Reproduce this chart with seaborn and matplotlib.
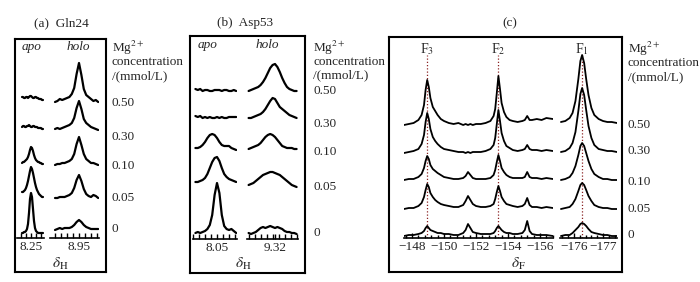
import numpy as np
import matplotlib
matplotlib.use('Agg')
import matplotlib.pyplot as plt
import seaborn as sns
from matplotlib.ticker import MultipleLocator, FixedLocator, FuncFormatter

W, H = 700, 282

# Mg2+ concentration of each trace, bottom row first
conc_labels = ['0', '0.05', '0.10', '0.30', '0.50']

# (a) Gln24, 1H shift (ppm) and peak intensity above each baseline
gln_apo_ppm = np.linspace(8.16, 8.37, 22)
gln_apo = [
    [0, 0, 1, 1, 2, 4, 9, 20, 34, 40, 36, 24, 12, 5, 2, 1, 0, 0, 0, 0, 0, 0],
    [5, 5, 6, 7, 9, 12, 16, 21, 26, 30, 28, 24, 19, 14, 10, 7, 5, 3, 2, 1, 0, 0],
    [0, 1, 1, 2, 3, 4, 6, 9, 13, 16, 15, 12, 8, 5, 3, 2, 1, 1, 0, 0, -1, -1],
    [0, 1, 1, 0, 0, 1, 1, 2, 1, 0, 0, 1, 1, 0, 0, 0, -1, -1, -1, -1, -2, -2],
    [1, 1, 0, 0, 1, 1, 0, 1, 2, 2, 1, 0, 0, 1, 1, 0, 0, -1, -1, -1, -2, -2],
]
gln_holo_ppm = np.linspace(8.75, 9.11, 19)
gln_holo = [
    [0, 1, 2, 1, 2, 2, 2, 3, 5, 8, 10, 8, 5, 3, 2, 1, 1, 1, 1],
    [0, 0, 1, 1, 1, 2, 3, 5, 10, 18, 23, 17, 9, 4, 2, 1, 3, 2, 0],
    [0, 1, 1, 2, 2, 3, 4, 6, 11, 21, 28, 20, 11, 6, 4, 2, 2, 1, 0],
    [1, 2, 1, 2, 3, 4, 5, 7, 12, 22, 29, 21, 11, 7, 5, 3, 2, 1, 0],
    [0, 1, 3, 2, 3, 4, 5, 8, 14, 28, 39, 27, 13, 7, 5, 3, 1, 2, 0],
]

# (b) Asp53
asp_apo_ppm = np.linspace(7.87, 8.21, 18)
asp_apo = [
    [0, 1, 0, 1, 2, 4, 8, 18, 38, 50, 40, 18, 7, 4, 3, 4, 2, 0],
    [0, 0, 1, 2, 4, 8, 14, 20, 24, 25, 21, 14, 8, 5, 3, 2, 1, 0],
    [1, 1, 2, 4, 7, 11, 14, 15, 14, 11, 7, 4, 3, 3, 3, 1, 0, -1],
    [1, 0, 1, -1, 0, -1, 0, -1, -1, 0, -1, 0, -1, -1, 0, 0, 0, 0],
    [1, 0, 1, -1, 0, 0, -1, -1, 0, 0, 0, -1, 0, 0, -1, -1, 0, -1],
]
asp_holo_ppm = np.linspace(9.10, 9.50, 21)
asp_holo = [
    [0, -1, 0, 1, 3, 5, 6, 5, 6, 7, 6, 5, 6, 5, 4, 2, 1, 1, 0, 0, -1],
    [0, 1, 2, 4, 6, 8, 10, 11, 12, 13, 13, 12, 11, 10, 8, 6, 4, 2, 0, -1, -2],
    [0, 1, 2, 3, 4, 6, 9, 12, 14, 15, 14, 12, 9, 6, 3, 2, 1, 1, 1, 0, 0],
    [0, 0, 1, 2, 3, 4, 6, 9, 13, 17, 20, 19, 15, 11, 9, 7, 5, 3, 2, 1, 0],
    [0, 1, 2, 3, 4, 6, 9, 13, 18, 23, 26, 27, 24, 19, 13, 8, 4, 2, 1, 0, 0],
]

# (c) 19F spectra
f_left_ppm = [-147.5, -147.8, -148.1, -148.4, -148.6, -148.75, -148.85, -148.95,
              -149.05, -149.15, -149.3, -149.45, -149.6, -149.8, -150.0, -150.3,
              -150.6, -150.9, -151.2, -151.35, -151.5, -151.65, -151.8, -152.0,
              -152.3, -152.6, -152.9, -153.1, -153.2, -153.3, -153.4, -153.5,
              -153.6, -153.75, -153.9, -154.1, -154.3, -154.6, -154.9, -155.05,
              -155.2, -155.35, -155.5, -155.8, -156.1, -156.4, -156.8]
f_left = [
    [0, 1, 1, 2, 3, 5, 8, 10, 8, 6, 5, 4, 3, 3, 2, 2, 1, 1, 3, 6, 12, 8, 4, 3,
     2, 2, 2, 3, 5, 8, 10, 8, 6, 4, 3, 3, 2, 2, 3, 6, 15, 5, 2, 1, 1, 1, 0],
    [0, 1, 1, 3, 6, 12, 19, 25, 22, 16, 12, 9, 7, 5, 4, 3, 2, 2, 4, 8, 13, 9, 5, 3,
     2, 2, 3, 5, 10, 17, 23, 18, 12, 8, 5, 4, 3, 2, 3, 5, 11, 4, 2, 2, 1, 2, 1],
    [0, 1, 1, 3, 6, 12, 19, 24, 21, 15, 11, 9, 7, 5, 3, 2, 1, 1, 2, 4, 8, 5, 2, 1,
     1, 1, 2, 5, 10, 18, 25, 19, 12, 8, 5, 3, 2, 2, 2, 3, 8, 3, 2, 2, 1, 2, 1],
    [0, 1, 2, 4, 9, 18, 31, 40, 34, 24, 16, 12, 9, 6, 4, 3, 2, 1, 1, 0, 1, 0, 1, 1,
     1, 2, 4, 8, 15, 29, 43, 32, 20, 12, 7, 5, 3, 2, 3, 4, 8, 4, 3, 3, 2, 3, 2],
    [0, 1, 2, 5, 10, 20, 35, 45, 38, 27, 18, 14, 10, 6, 4, 2, 1, 2, 0, 1, 0, 1, 0, 1,
     1, 2, 4, 9, 16, 32, 49, 36, 22, 13, 8, 5, 4, 3, 4, 5, 9, 5, 5, 6, 5, 7, 6],
]
f_right_ppm = [-175.55, -175.7, -175.85, -175.95, -176.05, -176.15, -176.22, -176.28,
               -176.35, -176.42, -176.5, -176.6, -176.7, -176.85, -177.0, -177.15,
               -177.3, -177.48]
f_right = [
    [0, 1, 1, 3, 6, 9, 12, 13, 12, 10, 7, 4, 3, 2, 1, 1, 0, 0],
    [0, 1, 2, 5, 10, 18, 24, 26, 24, 19, 13, 8, 4, 2, 1, 1, 0, 0],
    [0, 1, 3, 7, 14, 25, 34, 37, 34, 27, 19, 11, 6, 3, 1, 1, 0, 0],
    [0, 1, 4, 9, 20, 41, 58, 64, 57, 42, 26, 14, 7, 3, 2, 1, 1, 0],
    [1, 2, 5, 10, 22, 44, 62, 68, 60, 44, 28, 15, 8, 4, 2, 1, 1, 0],
]
f_peaks = ['F$_3$', 'F$_2$', 'F$_1$']
f_peak_ppm = [-148.94, -153.38, -176.28]

sns.set_theme(style='white')
plt.rcParams['font.family'] = ['Liberation Serif', 'DejaVu Serif']
plt.rcParams['mathtext.fontset'] = 'stix'
plt.rcParams['axes.unicode_minus'] = True
FS = 9.5


def px_axes(fig, x0, y0, x1, y1):
    return fig.add_axes([x0 / W, 1 - y1 / H, (x1 - x0) / W, (y1 - y0) / H])


def frame(fig, x0, y0, x1, y1):
    ax = px_axes(fig, x0, y0, x1, y1)
    ax.set_xticks([])
    ax.set_yticks([])
    for s in ax.spines.values():
        s.set_visible(True)
        s.set_color('black')
        s.set_linewidth(1.5)
    ax.set_zorder(0)
    return ax


def segment(fig, rect, xlim, ppm, rows, offsets, lw=1.6):
    ax = px_axes(fig, *rect)
    ax.set_facecolor('none')
    ax.set_zorder(2)
    for vals, off in zip(rows, offsets):
        sns.lineplot(x=np.asarray(ppm), y=np.asarray(vals) + off, ax=ax, color='black',
                     lw=lw, estimator=None, sort=False, legend=False)
    ax.set_xlim(*xlim)
    ax.set_ylim(0, rect[3] - rect[1])
    for s in ['left', 'right', 'top']:
        ax.spines[s].set_visible(False)
    ax.spines['bottom'].set_color('black')
    ax.spines['bottom'].set_linewidth(1.2)
    ax.set_yticks([])
    ax.set_xlabel('')
    ax.set_ylabel('')
    ax.tick_params(axis='x', which='both', direction='in', bottom=True, length=3.4,
                   width=1.0, color='black', pad=2.5, labelsize=FS)
    return ax


def labelled(ax, value, step):
    ax.xaxis.set_major_locator(FixedLocator([value]))
    ax.xaxis.set_major_formatter(FuncFormatter(lambda v, p: f'{v:.2f}'))
    ax.xaxis.set_minor_locator(MultipleLocator(step))


def conc_column(fig, x, head_y, row_y):
    fig.text(x / W, 1 - head_y[0] / H, 'Mg$^{2+}$', fontsize=FS, va='center', ha='left')
    fig.text(x / W, 1 - head_y[1] / H, 'concentration', fontsize=FS, va='center', ha='left')
    fig.text(x / W, 1 - head_y[2] / H, '/(mmol/L)', fontsize=FS, va='center', ha='left')
    for lab, y in zip(conc_labels, row_y):
        fig.text(x / W, 1 - y / H, lab, fontsize=FS, va='center', ha='left')


def ftext(fig, x, y, s, size=FS, **kw):
    fig.text(x / W, 1 - y / H, s, fontsize=size, ha='center', va='center', **kw)


fig = plt.figure(figsize=(7.0, 2.82), dpi=100)
minus = FuncFormatter(lambda v, p: f'{v:.0f}'.replace('-', '\u2212'))

# ---- (a) Gln24 ----
frame(fig, 15, 39, 106, 272)
px = 0.05 / 6
ax = segment(fig, (17, 39, 44, 238), (8.11, 8.38), gln_apo_ppm, gln_apo,
             [5, 41, 75, 111, 140])
labelled(ax, 8.25, 0.05)
ax = segment(fig, (50, 39, 99, 238), (8.95 - 29 * px, 8.95 + 20 * px), gln_holo_ppm,
             gln_holo, [8, 40, 73, 108, 136])
labelled(ax, 8.95, 0.05)
ftext(fig, 61, 23, '(a)  Gln24')
ftext(fig, 32, 47, 'apo', style='italic')
ftext(fig, 78, 47, 'holo', style='italic')
ftext(fig, 60, 264, r'$\delta_\mathrm{H}$', size=11)
conc_column(fig, 112, [48, 62, 76], [229, 198, 166, 137, 103])

# ---- (b) Asp53 ----
frame(fig, 190, 36, 305, 273)
ax = segment(fig, (193, 36, 237, 239), (8.05 - 24 * px, 8.05 + 20 * px), asp_apo_ppm,
             asp_apo, [6, 57, 90, 122, 149])
labelled(ax, 8.05, 0.05)
ax = segment(fig, (247, 36, 298, 239), (9.32 - 28 * px, 9.32 + 23 * px), asp_holo_ppm,
             asp_holo, [6, 54, 90, 121, 148])
labelled(ax, 9.32, 0.05)
ftext(fig, 245, 23, '(b)  Asp53')
ftext(fig, 208, 45, 'apo', style='italic')
ftext(fig, 267, 45, 'holo', style='italic')
ftext(fig, 243, 264, r'$\delta_\mathrm{H}$', size=11)
conc_column(fig, 313, [48, 62, 75], [233, 187, 152, 124, 91])

# ---- (c) 19F ----
frame(fig, 389, 37, 622, 272)
axl = segment(fig, (404, 37, 553, 238), (-147.5, -148 - (553 - 412) / 16), f_left_ppm,
              f_left, [2, 29, 58, 85, 113], lw=1.3)
axl.xaxis.set_major_locator(MultipleLocator(2))
axl.xaxis.set_minor_locator(MultipleLocator(0.4))
axl.xaxis.set_major_formatter(minus)
axr = segment(fig, (560, 37, 617, 238), (-176 + 14 / 29, -176 - 43 / 29), f_right_ppm,
              f_right, [2, 29, 58, 86, 115], lw=1.3)
axr.xaxis.set_major_locator(MultipleLocator(1))
axr.xaxis.set_minor_locator(MultipleLocator(0.2))
axr.xaxis.set_major_formatter(minus)
for ax in (axl, axr):
    ax.tick_params(axis='x', which='minor', length=2.4)
for name, pos in zip(f_peaks, f_peak_ppm):
    ax = axl if pos > -160 else axr
    ax.axvline(pos, ymin=0, ymax=(238 - 55) / 201, ls=(0, (1, 1.6)), color='#8b2323',
               lw=0.9, zorder=1)
    xpix = ax.transData.transform((pos, 0))[0]
    fig.text(xpix / fig.bbox.width, 1 - 49 / H, name, fontsize=FS + 0.5, ha='center',
             va='center')
ftext(fig, 510, 23, '(c)')
ftext(fig, 518, 264, r'$\delta_\mathrm{F}$', size=11)
conc_column(fig, 628, [49, 63, 77], [235, 209, 182, 151, 125])

fig.savefig('out.png', dpi=100)
